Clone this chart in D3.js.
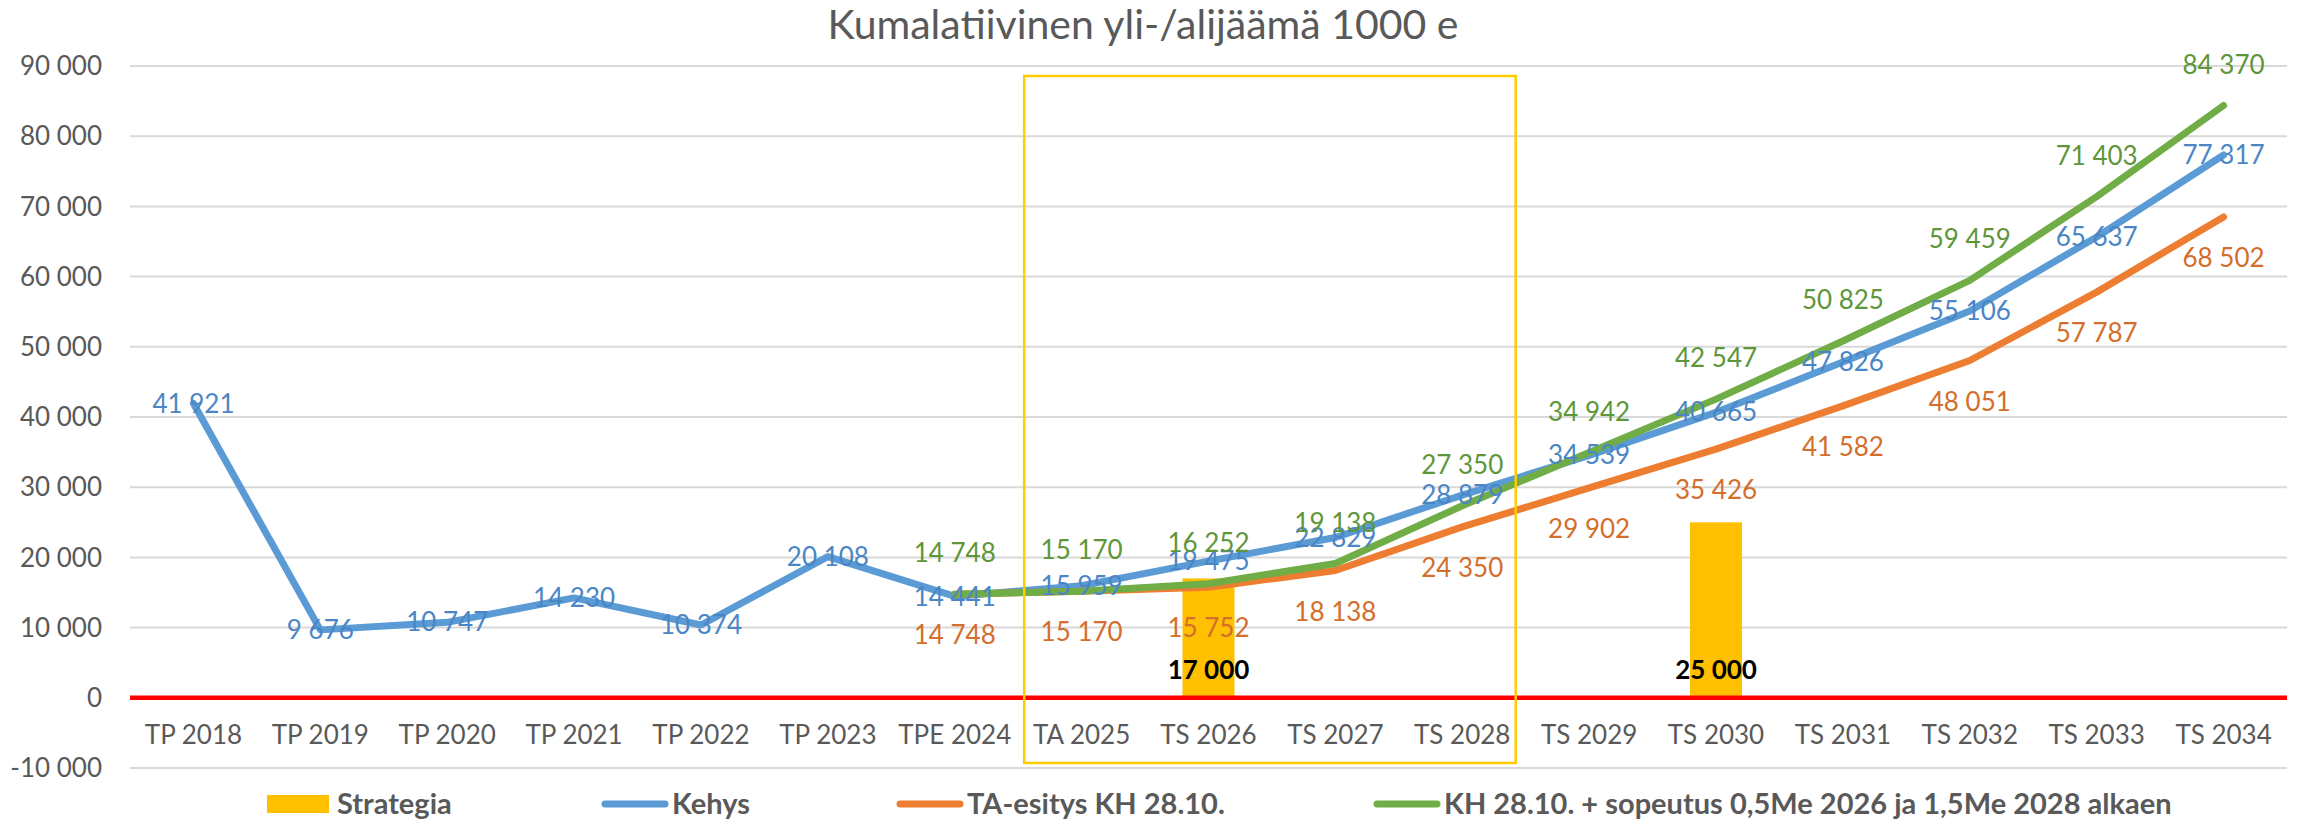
<!DOCTYPE html>
<html lang="fi">
<meta charset="utf-8">
<style>
body { margin: 0; background: #fff; }
text { font-family: Lato, "Open Sans", sans-serif; }
.grid line { stroke: #d9d9d9; stroke-width: 2px; }
.axis text { fill: #595959; font-size: 26px; }
.title { fill: #595959; font-size: 41px; }
.legend text { fill: #595959; font-size: 29px; font-weight: bold; }
.lbl { font-size: 26px; }
</style>
<body>
<div id="chart"></div>
<script src="https://d3js.org/d3.v7.min.js"></script>
<script>
"use strict";

const categories = ["TP 2018", "TP 2019", "TP 2020", "TP 2021", "TP 2022", "TP 2023", "TPE 2024",
  "TA 2025", "TS 2026", "TS 2027", "TS 2028", "TS 2029", "TS 2030", "TS 2031", "TS 2032", "TS 2033", "TS 2034"];

const kehys = [41921, 9676, 10747, 14230, 10374, 20108, 14441,
  15959, 19475, 22829, 28879, 34539, 40665, 47826, 55106, 65637, 77317];

const taEsitys = [null, null, null, null, null, null, 14748,
  15170, 15752, 18138, 24350, 29902, 35426, 41582, 48051, 57787, 68502];

const sopeutus = [null, null, null, null, null, null, 14748,
  15170, 16252, 19138, 27350, 34942, 42547, 50825, 59459, 71403, 84370];

const strategia = [null, null, null, null, null, null, null,
  null, 17000, null, null, null, 25000, null, null, null, null];

const yTicks = [-10000, 0, 10000, 20000, 30000, 40000, 50000, 60000, 70000, 80000, 90000];

const titleText = "Kumalatiivinen yli-/alijäämä 1000 e";
const seriesNames = ["Strategia", "Kehys", "TA-esitys KH 28.10.", "KH 28.10. + sopeutus 0,5Me 2026 ja 1,5Me 2028 alkaen"];

const W = 2303, H = 819;
const plot = {left: 130, right: 2287, top: 66, bottom: 768};

const fi = d3.formatLocale({decimal: ",", thousands: "\u00a0", grouping: [3], currency: ["", " €"], minus: "-"});
const fmt = fi.format(",.0f");

const svg = d3.select("#chart").append("svg")
  .attr("width", W).attr("height", H);

const x = d3.scaleBand().domain(categories).range([plot.left, plot.right]);
const y = d3.scaleLinear().domain([-10000, 90000]).range([plot.bottom, plot.top]);
const cx = c => x(c) + x.bandwidth() / 2;

// title
svg.append("text").attr("class", "title")
  .attr("x", 1143).attr("y", 39)
  .attr("text-anchor", "middle")
  .text(titleText);

// gridlines + y labels
const grid = svg.append("g").attr("class", "grid");
grid.selectAll("line").data(yTicks).join("line")
  .attr("x1", plot.left).attr("x2", plot.right)
  .attr("y1", d => y(d)).attr("y2", d => y(d));

const yAxis = svg.append("g").attr("class", "axis");
yAxis.selectAll("text").data(yTicks).join("text")
  .attr("x", 102).attr("y", d => y(d))
  .attr("dy", "0.35em")
  .attr("text-anchor", "end")
  .text(d => fmt(d));

// category labels
const xAxis = svg.append("g").attr("class", "axis");
xAxis.selectAll("text").data(categories).join("text")
  .attr("x", d => cx(d)).attr("y", y(0) + 37)
  .attr("dy", "0.35em")
  .attr("text-anchor", "middle")
  .text(d => d);

// Strategia bars
const barW = x.bandwidth() * 0.41;
const barData = categories.map((c, i) => ({c, v: strategia[i]})).filter(d => d.v != null);
svg.append("g").selectAll("rect").data(barData).join("rect")
  .attr("x", d => cx(d.c) - barW / 2)
  .attr("width", barW)
  .attr("y", d => y(d.v))
  .attr("height", d => y(0) - y(d.v))
  .attr("fill", "#ffc000");

// zero line
svg.append("line")
  .attr("x1", plot.left).attr("x2", plot.right)
  .attr("y1", y(0)).attr("y2", y(0))
  .attr("stroke", "#ff0000").attr("stroke-width", 4.5);

// lines
const series = [
  {values: kehys, color: "#5b9bd5", label: "#4a86c6", off: 0},
  {values: taEsitys, color: "#ed7d31", label: "#d46e2c", off: 41},
  {values: sopeutus, color: "#70ad47", label: "#5e963a", off: -41}
];

const line = d3.line()
  .defined(d => d.v != null)
  .x(d => cx(d.c))
  .y(d => y(d.v));

series.forEach(s => {
  const pts = categories.map((c, i) => ({c, v: s.values[i]}));
  svg.append("path")
    .datum(pts)
    .attr("d", line)
    .attr("fill", "none")
    .attr("stroke", s.color)
    .attr("stroke-width", 7)
    .attr("stroke-linejoin", "round")
    .attr("stroke-linecap", "round");
});

// data labels
series.forEach(s => {
  const pts = categories.map((c, i) => ({c, v: s.values[i]})).filter(d => d.v != null);
  svg.append("g").selectAll("text").data(pts).join("text")
    .attr("class", "lbl")
    .attr("x", d => cx(d.c))
    .attr("y", d => y(d.v) + s.off)
    .attr("dy", "0.35em")
    .attr("text-anchor", "middle")
    .attr("fill", s.label)
    .text(d => fmt(d.v));
});

// bar labels (inside base)
svg.append("g").selectAll("text").data(barData).join("text")
  .attr("class", "lbl")
  .attr("x", d => cx(d.c))
  .attr("y", y(0) - 28)
  .attr("dy", "0.35em")
  .attr("text-anchor", "middle")
  .attr("font-weight", "bold")
  .attr("fill", "#000")
  .text(d => fmt(d.v));

// highlight frame around TA 2025 .. TS 2028
svg.append("rect")
  .attr("x", x("TA 2025") + 6)
  .attr("y", y(90000) + 10)
  .attr("width", x("TS 2028") + x.bandwidth() - 10 - (x("TA 2025") + 6))
  .attr("height", y(-10000) - 5 - (y(90000) + 10))
  .attr("fill", "none")
  .attr("stroke", "#ffcc00")
  .attr("stroke-width", 2.5);

// legend
const legend = svg.append("g").attr("class", "legend");
const legY = 804;
const legItems = [
  {name: seriesNames[0], x0: 267, type: "bar", color: "#ffc000"},
  {name: seriesNames[1], x0: 602, type: "line", color: "#5b9bd5"},
  {name: seriesNames[2], x0: 897, type: "line", color: "#ed7d31"},
  {name: seriesNames[3], x0: 1374, type: "line", color: "#70ad47"}
];
legItems.forEach(it => {
  if (it.type === "bar") {
    legend.append("rect")
      .attr("x", it.x0).attr("y", legY - 9)
      .attr("width", 62).attr("height", 18)
      .attr("fill", it.color);
  } else {
    legend.append("line")
      .attr("x1", it.x0 + 3).attr("x2", it.x0 + 63)
      .attr("y1", legY).attr("y2", legY)
      .attr("stroke", it.color).attr("stroke-width", 7)
      .attr("stroke-linecap", "round");
  }
  legend.append("text")
    .attr("x", it.x0 + 70).attr("y", legY)
    .attr("dy", "0.35em")
    .text(it.name);
});
</script>
</body>
</html>
